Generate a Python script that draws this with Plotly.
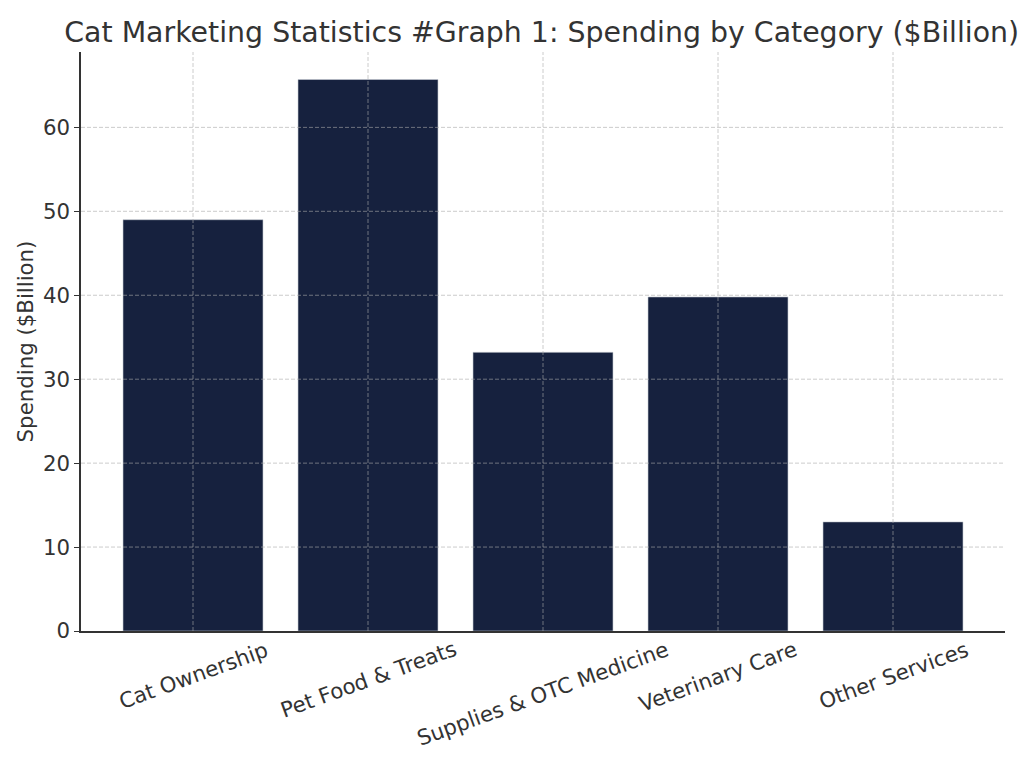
import plotly.graph_objects as go

categories = ["Cat Ownership", "Pet Food & Treats", "Supplies & OTC Medicine",
              "Veterinary Care", "Other Services"]
spending = [49.0, 65.7, 33.2, 39.8, 13.0]
y_ticks = [0, 10, 20, 30, 40, 50, 60]

FONT = "DejaVu Sans"
TXT = "#333333"
FS = 21.3

fig = go.Figure()
fig.add_trace(go.Bar(
    x=list(range(len(categories))), y=spending, width=0.8,
    marker=dict(color="#16213e", line=dict(color="#c8ccd4", width=0.6)),
    showlegend=False,
))

for i, c in enumerate(categories):
    fig.add_annotation(x=i, y=0, xref="x", yref="y", text=c, showarrow=False,
                       textangle=-20, xanchor="center", yanchor="top", yshift=-3,
                       font=dict(size=FS, color=TXT, family=FONT))

# gridlines drawn above the bars (as in the original)
grid = "rgba(170,170,170,0.6)"
for v in y_ticks[1:]:
    fig.add_shape(type="line", xref="paper", yref="y", x0=0, x1=1, y0=v, y1=v,
                  line=dict(color=grid, width=1, dash="4px,2px"), layer="above")
for i in range(len(categories)):
    fig.add_shape(type="line", xref="x", yref="paper", x0=i, x1=i, y0=0, y1=1,
                  line=dict(color=grid, width=1, dash="4px,2px"), layer="above")

fig.update_layout(
    width=1024, height=768,
    margin=dict(l=81, r=19, t=52, b=137),
    paper_bgcolor="white", plot_bgcolor="white",
    font=dict(family=FONT, color=TXT, size=FS),
    title=dict(text="Cat Marketing Statistics #Graph 1: Spending by Category ($Billion)",
               x=0.529, xanchor="center", y=0.958, yanchor="middle",
               font=dict(size=28.4, color=TXT)),
    xaxis=dict(range=[-0.64, 4.64], tickmode="array",
               tickvals=list(range(len(categories))), showticklabels=False,
               showline=True, linecolor="#333333", linewidth=1.5,
               ticks="", showgrid=False, zeroline=False, layer="above traces"),
    yaxis=dict(range=[0, 68.98], tickmode="array", tickvals=y_ticks,
               showline=True, linecolor="#333333", linewidth=1.5,
               ticks="outside", ticklen=5, tickcolor="#333333",
               showgrid=False, zeroline=False, layer="above traces",
               title=dict(text="Spending ($Billion)", font=dict(size=FS, color=TXT), standoff=3),
               tickfont=dict(size=FS, color=TXT)),
)

fig.write_html("out.html")
